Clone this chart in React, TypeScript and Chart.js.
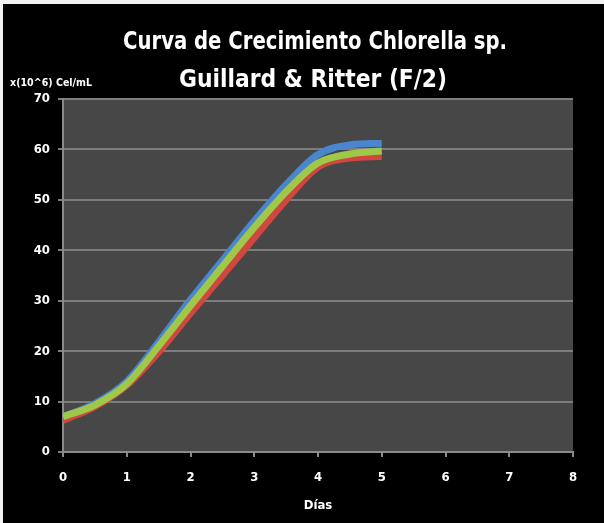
import React, { useEffect, useRef } from "react";
import { Chart, registerables } from "chart.js";

Chart.register(...registerables);

const days = [0, 0.5, 1, 1.5, 2, 2.5, 3, 3.5, 4, 4.5, 5];
const serieAzul = [7, 9.6, 14, 21.8, 30.2, 38, 45.8, 53, 59, 60.9, 61.2];
const serieRoja = [6.3, 9, 13.2, 19.8, 27.5, 35, 42.5, 50, 56.5, 58.3, 58.6];
const serieVerde = [7, 9.3, 13.5, 21, 29, 36.8, 44.5, 51.6, 57.3, 59.1, 59.7];
const xTicks = [0, 1, 2, 3, 4, 5, 6, 7, 8];
const yTicks = [0, 10, 20, 30, 40, 50, 60, 70];
const titleLines = ["Curva de Crecimiento Chlorella sp.", "Guillard & Ritter (F/2)"];
const yLabel = "x(10^6) Cel/mL";
const xLabel = "Días";

const FONT = "'Liberation Sans Narrow', 'DejaVu Sans Condensed', 'Open Sans', sans-serif";

const drawCondensed = (ctx: any, text: string, size: number, cx: number, cy: number, targetW: number, align: string) => {
  ctx.font = `bold ${size}px ${FONT}`;
  const w = ctx.measureText(text).width;
  const sx = targetW / w;
  ctx.save();
  ctx.translate(cx, cy);
  ctx.scale(sx, 1);
  ctx.textAlign = align;
  ctx.textBaseline = "middle";
  ctx.fillText(text, 0, 0);
  ctx.restore();
};

const bgPlugin = {
  id: "bgPlugin",
  beforeDraw(chart: any) {
    const { ctx, chartArea, width, height } = chart;
    ctx.save();
    ctx.fillStyle = "#f2f2f2";
    ctx.fillRect(0, 0, width, height);
    ctx.fillStyle = "#000000";
    ctx.fillRect(3, 4, width - 3, height - 4);
    ctx.fillStyle = "#474747";
    ctx.fillRect(chartArea.left, chartArea.top, chartArea.right - chartArea.left, chartArea.bottom - chartArea.top);
    ctx.restore();
  },
  afterDraw(chart: any) {
    const { ctx } = chart;
    ctx.save();
    ctx.fillStyle = "#ffffff";
    drawCondensed(ctx, titleLines[0], 25, 315, 42, 384, "center");
    drawCondensed(ctx, titleLines[1], 24, 313, 81, 268, "center");
    drawCondensed(ctx, yLabel, 11, 10, 83, 82, "left");
    ctx.restore();
  },
};

export default function App() {
  const ref = useRef<HTMLCanvasElement | null>(null);
  useEffect(() => {
    if (!ref.current) return;
    const mk = (vals: number[]) => days.map((d, i) => ({ x: d, y: vals[i] }));
    const common = { borderWidth: 7, pointRadius: 0, cubicInterpolationMode: "monotone", fill: false };
    const chart = new Chart(ref.current, {
      type: "line",
      data: {
        datasets: [
          { label: "Serie 1", data: mk(serieAzul), borderColor: "#4a86cf", order: 3, ...common },
          { label: "Serie 2", data: mk(serieRoja), borderColor: "#d0473f", order: 2, ...common },
          { label: "Serie 3", data: mk(serieVerde), borderColor: "#9fc84a", order: 1, ...common },
        ],
      },
      options: {
        responsive: false,
        animation: false,
        devicePixelRatio: 1,
        layout: { padding: { top: 99, left: 0, right: 31, bottom: 0 } },
        plugins: {
          legend: { display: false },
          title: { display: false },
          tooltip: { enabled: false },
        },
        scales: {
          x: {
            type: "linear",
            min: 0,
            max: 8,
            afterBuildTicks: (s: any) => {
              s.ticks = xTicks.map((v) => ({ value: v }));
            },
            afterFit: (s: any) => {
              s.height = 71;
            },
            grid: { drawOnChartArea: false, drawTicks: true, tickLength: 5, color: "#8a8a8a", lineWidth: 2 },
            border: { display: true, color: "#8a8a8a", width: 2 },
            ticks: { color: "#ffffff", font: { family: FONT, size: 13, weight: "bold" }, padding: 13, maxRotation: 0 },
            title: { display: true, text: xLabel, color: "#ffffff", font: { family: FONT, size: 13, weight: "bold" }, padding: { top: 4, bottom: 10 } },
          },
          y: {
            type: "linear",
            min: 0,
            max: 70,
            afterBuildTicks: (s: any) => {
              s.ticks = yTicks.map((v) => ({ value: v }));
            },
            afterFit: (s: any) => {
              s.width = 63;
            },
            grid: { color: "#7d7d7d", lineWidth: 2, tickLength: 5, drawTicks: true },
            border: { display: true, color: "#8a8a8a", width: 2 },
            ticks: { color: "#ffffff", font: { family: FONT, size: 13, weight: "bold" }, padding: 8 },
          },
        },
      },
      plugins: [bgPlugin],
    } as any);
    return () => chart.destroy();
  }, []);
  return (
    <div style={{ position: "fixed", left: 0, top: 0, width: 604, height: 523, background: "#000" }}>
      <canvas ref={ref} width={604} height={523} style={{ display: "block" }} />
    </div>
  );
}
